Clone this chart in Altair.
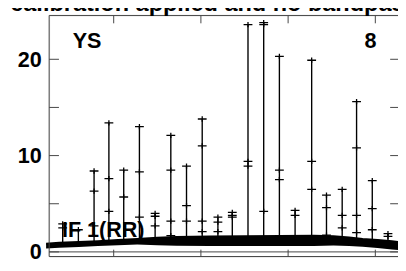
import altair as alt
import pandas as pd

# ---- data ----
band_chan = [45, 75, 120, 164, 210, 254, 300, 344, 420, 501, 580, 659, 704, 740, 771, 805, 838, 852]
band_lo = [0.34, 0.44, 0.52, 0.61, 0.70, 0.77, 0.70, 0.64, 0.62, 0.61, 0.61, 0.61, 0.67, 0.60, 0.54, 0.40, 0.26, 0.20]
band_hi = [0.84, 0.95, 1.03, 1.12, 1.25, 1.35, 1.48, 1.56, 1.60, 1.63, 1.66, 1.69, 1.63, 1.50, 1.35, 1.25, 1.12, 1.02]

spike_chan = [83, 119, 155, 189, 223, 259, 295, 331, 367, 403, 439, 472,
              508, 544, 580, 616, 654, 688, 724, 757, 793, 829]
spike_vals = [
    [2.9, 2.5],
    [2.3],
    [8.4, 6.3, 2.7],
    [13.4, 7.6, 4.2],
    [8.5, 5.7],
    [13.0, 8.3, 3.6],
    [4.0, 3.7, 2.7],
    [12.1, 8.5, 3.2, 1.7],
    [8.9, 4.8, 3.2],
    [13.8, 11.0, 3.2, 2.1],
    [3.6, 3.1, 2.1],
    [4.1, 3.8, 3.6],
    [23.6, 9.4, 8.9],
    [23.8, 23.6, 4.2],
    [20.3, 8.5, 7.5],
    [4.3, 3.8],
    [19.9, 9.4, 6.5],
    [5.9, 4.6, 1.75],
    [6.5, 3.8, 2.5],
    [15.6, 10.8, 3.8, 2.0],
    [7.4, 4.5, 2.3],
    [1.9, 1.6],
]
spike_base = 1.0

y_labels = [0, 10, 20]
y_ticks = [0, 5, 10, 15, 20]
x_ticks = [200, 400, 600, 800]

title_text = "Using calibration applied and no bandpass"
panel_left = "YS"
panel_right = "8"
if_label = "IF 1(RR)"

# ---- tables ----
band_df = pd.DataFrame({"chan": band_chan, "lo": band_lo, "hi": band_hi})
spike_df = pd.DataFrame({"chan": spike_chan, "top": [max(v) for v in spike_vals],
                         "base": [spike_base] * len(spike_chan)})
pts = [{"chan": c, "amp": a} for c, vs in zip(spike_chan, spike_vals) for a in vs]
pts_df = pd.DataFrame(pts)
ytick_df = pd.DataFrame({"v": y_ticks})
xtick_df = pd.DataFrame({"t": x_ticks})
zero_df = pd.DataFrame({"z": [0]})

W, H = 356, 246
FONT = "Liberation Sans"
FRAME = "#444"

xscale = alt.Scale(domain=[52, 852], nice=False, zero=False)
yscale = alt.Scale(domain=[-0.48, 24.55], nice=False, zero=False)
yaxis = alt.Axis(values=y_labels, ticks=False, domain=False, grid=False,
                 labelFontSize=22, labelFont=FONT, labelFontWeight="bold",
                 labelColor="black", labelPadding=8, title=None)


def X(field):
    return alt.X(field, type="quantitative", scale=xscale, axis=None)


def Y(field):
    return alt.Y(field, type="quantitative", scale=yscale, axis=yaxis)


band = alt.Chart(band_df).mark_area(color="black", opacity=1).encode(
    x=X("chan"), y=Y("lo"), y2="hi")

band_line = alt.Chart(band_df).mark_line(color="black", strokeWidth=2).encode(
    x=X("chan"), y=Y("hi"))

spikes = alt.Chart(spike_df).mark_rule(color="black", strokeWidth=1.4).encode(
    x=X("chan"), y=Y("base"), y2="top")

plus = alt.Chart(pts_df).mark_point(
    shape="M -1 0 L 1 0 M 0 -0.6 L 0 0.6", filled=False, color="black",
    size=81, strokeWidth=1.3, opacity=1).encode(x=X("chan"), y=Y("amp"))

zero_line = alt.Chart(zero_df).mark_rule(color=FRAME, strokeWidth=1).encode(
    y=Y("z"), x=alt.value(0), x2=alt.value(W + 2))

left_ticks = alt.Chart(ytick_df).mark_rule(color=FRAME).encode(
    y=Y("v"), x=alt.value(0), x2=alt.value(10))
right_ticks = alt.Chart(ytick_df).mark_rule(color=FRAME).encode(
    y=Y("v"), x=alt.value(W - 8), x2=alt.value(W + 2))
top_ticks = alt.Chart(xtick_df).mark_rule(color=FRAME).encode(
    x=X("t"), y=alt.value(0), y2=alt.value(8))
bottom_ticks = alt.Chart(xtick_df).mark_rule(color=FRAME).encode(
    x=X("t"), y=alt.value(H - 7), y2=alt.value(H))

frame_left = alt.Chart(zero_df).mark_rule(color=FRAME).encode(
    x=alt.value(0), y=alt.value(0), y2=alt.value(H))
frame_top = alt.Chart(zero_df).mark_rule(color=FRAME).encode(
    y=alt.value(0), x=alt.value(0), x2=alt.value(W + 2))
frame_bottom = alt.Chart(zero_df).mark_rule(color=FRAME).encode(
    y=alt.value(H), x=alt.value(0), x2=alt.value(W + 2))

txt_style = dict(font=FONT, fontWeight="bold", fontSize=22, color="black", baseline="alphabetic")
t_ys = alt.Chart(zero_df).mark_text(align="left", text=panel_left, **txt_style).encode(
    x=alt.value(24), y=alt.value(33))
t_8 = alt.Chart(zero_df).mark_text(align="right", text=panel_right, **txt_style).encode(
    x=alt.value(334), y=alt.value(33))
t_if = alt.Chart(zero_df).mark_text(align="left", text=if_label, **txt_style).encode(
    x=alt.value(13), y=alt.value(226))
t_title = alt.Chart(zero_df).mark_text(align="left", text=title_text,
                                       font=FONT, fontWeight="bold", fontSize=24,
                                       color="black", baseline="alphabetic").encode(
    x=alt.value(-113), y=alt.value(-5))

chart = alt.layer(
    band, band_line, spikes, plus, zero_line,
    left_ticks, right_ticks, top_ticks, bottom_ticks,
    frame_left, frame_top, frame_bottom,
    t_ys, t_8, t_if, t_title,
).properties(
    width=W, height=H,
    autosize=alt.AutoSizeParams(type="none"),
    padding={"left": 42, "top": 5, "right": 0, "bottom": 4},
).configure_view(stroke=None).configure(background="white")

chart.save("out.html", embed_options={"renderer": "svg", "actions": False})
